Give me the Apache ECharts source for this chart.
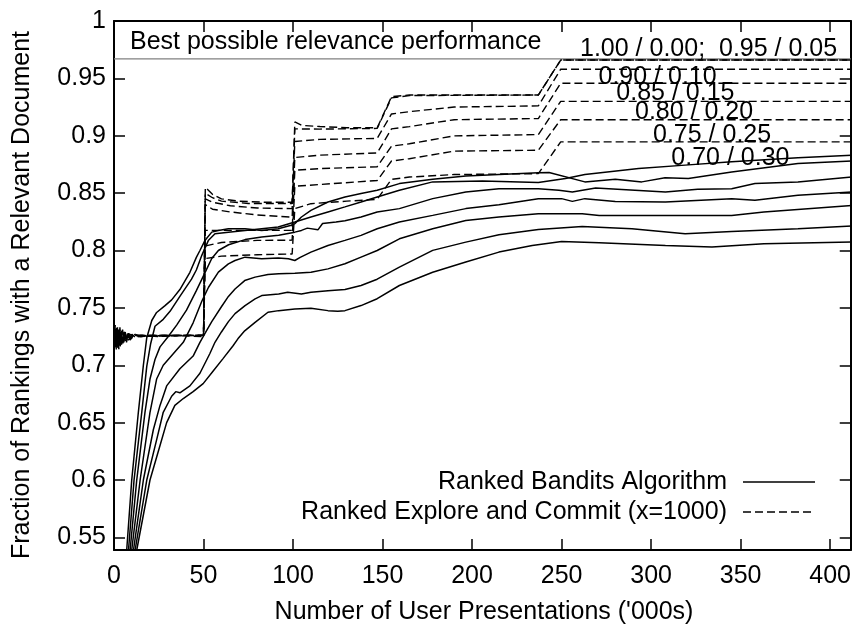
<!DOCTYPE html>
<html><head><meta charset="utf-8">
<script src="https://cdn.jsdelivr.net/npm/echarts@6/dist/echarts.min.js"></script>
<style>html,body{margin:0;padding:0;background:#fff}#c{width:854px;height:626px}</style>
</head><body><div id="c"></div>
<script>
const FONT = '"Liberation Sans", Arial, sans-serif';
const xTicks = [0, 50, 100, 150, 200, 250, 300, 350, 400];
const yTicks = [0.55, 0.6, 0.65, 0.7, 0.75, 0.8, 0.85, 0.9, 0.95, 1];
const bestPossible = 0.967;

// Ranked Bandits Algorithm curves (x in '000s, y fraction)
const banditA = [[7.1,0.539],[9.9,0.600],[13.6,0.659],[16.4,0.700],[18.3,0.724],[21.1,0.739],[23.8,0.746],[28.5,0.752],[32.2,0.757],[36.8,0.766],[42.4,0.781],[46,0.794],[48,0.800],[50.9,0.809],[54.6,0.816],[58.3,0.8175],[63.9,0.819],[73.2,0.819],[82.5,0.8175],[91.7,0.819],[99,0.822],[101,0.8234],[104.7,0.8292],[110,0.835],[119.5,0.8423],[129,0.8467],[138,0.8496],[147,0.8525],[159.4,0.8583],[178,0.8621],[196.5,0.865],[215,0.8662],[237,0.8677],[243,0.868],[263,0.8598],[280,0.8621],[294.8,0.8598],[307.8,0.8633],[320.8,0.8627],[345,0.8685],[382,0.8758],[412,0.8779]];
const banditB = [[8.1,0.539],[11.2,0.600],[15.5,0.659],[18.3,0.699],[20.5,0.719],[22.9,0.734],[27.5,0.740],[31.3,0.747],[36.8,0.760],[43.3,0.775],[46,0.783],[49.1,0.796],[52.8,0.809],[56.4,0.8146],[63.9,0.816],[73.2,0.8175],[82.5,0.819],[91.7,0.8205],[101,0.8248],[110,0.8292],[119.5,0.8336],[129,0.838],[138,0.8423],[147,0.8467],[159.4,0.8525],[178,0.8598],[205.8,0.8606],[237,0.8592],[252.2,0.8627],[263,0.8662],[293,0.8714],[319,0.8744],[345,0.8773],[382,0.8808],[412,0.8831]];
const banditC = [[9.0,0.539],[12.7,0.600],[17.3,0.659],[20.1,0.688],[22.9,0.705],[25.7,0.716],[30.3,0.725],[35,0.735],[40.5,0.748],[46,0.765],[50.9,0.781],[54.6,0.793],[58.3,0.800],[64,0.805],[73.2,0.8095],[82.5,0.8117],[92,0.8132],[101,0.816],[104.7,0.8175],[108,0.8195],[113.9,0.818],[116.5,0.8235],[124,0.8248],[129,0.826],[138,0.8292],[147,0.8336],[159.4,0.8365],[178,0.8452],[196.5,0.851],[215,0.8539],[237,0.8539],[248.5,0.8525],[256,0.851],[269,0.8545],[308,0.851],[326,0.8533],[345,0.8539],[358,0.8583],[382,0.8598],[412,0.8641]];
const banditD = [[9.9,0.539],[14.6,0.600],[20.1,0.659],[23.8,0.688],[27.5,0.700],[33.1,0.710],[38.7,0.720],[44.2,0.737],[49.1,0.756],[52.8,0.768],[58.3,0.7811],[63.9,0.7884],[67.6,0.7913],[73.2,0.7942],[82.5,0.7928],[91.7,0.7935],[97.4,0.7928],[101,0.7913],[104,0.794],[110,0.7986],[119.5,0.8044],[129,0.8088],[138,0.8132],[147,0.819],[159.4,0.8248],[178,0.8306],[196.5,0.8365],[215,0.8399],[237,0.8452],[250,0.8452],[256,0.8428],[263,0.8452],[280,0.8428],[308,0.8422],[345,0.8452],[358,0.8437],[382,0.8481],[412,0.851]];
const banditE = [[10.9,0.539],[16.4,0.600],[22,0.644],[25.7,0.665],[29.4,0.682],[36.8,0.697],[44.2,0.708],[48,0.720],[50.9,0.728],[54.6,0.738],[60,0.751],[63.9,0.760],[67.6,0.7665],[73,0.7738],[78.8,0.7768],[86,0.7791],[92,0.7797],[101,0.7802],[110,0.7811],[119.5,0.784],[129,0.7884],[138,0.7942],[147,0.800],[159.4,0.8102],[178,0.8189],[196.5,0.8262],[215,0.8291],[237,0.8321],[261.5,0.8321],[271,0.8306],[308,0.8306],[345,0.8306],[363,0.8335],[412,0.8393]];
const banditF = [[11.8,0.539],[18.3,0.600],[23.8,0.635],[27.5,0.659],[32.2,0.673],[34.5,0.677],[36.8,0.676],[42.4,0.682],[48,0.693],[53.5,0.710],[56.4,0.720],[60,0.729],[63.9,0.738],[67.6,0.745],[73.2,0.752],[78.8,0.7578],[82.5,0.7607],[92,0.762],[97,0.7636],[104.7,0.762],[110,0.7636],[119.5,0.765],[129,0.766],[138,0.7695],[147,0.775],[159.4,0.7855],[178,0.8001],[196.5,0.8073],[215,0.8137],[237,0.8184],[261.5,0.821],[289.3,0.8189],[319,0.8146],[345,0.8166],[382,0.8189],[412,0.8213]];
const banditG = [[12.7,0.539],[20.1,0.600],[25.7,0.630],[29.4,0.650],[34,0.665],[38.7,0.671],[44.2,0.677],[49.8,0.684],[55.4,0.695],[61,0.706],[66.5,0.717],[69.2,0.723],[73,0.730],[78.8,0.7374],[86,0.7462],[92,0.7476],[101,0.7491],[110,0.7497],[119.5,0.7476],[125,0.747],[129,0.7476],[138,0.752],[147,0.758],[159.4,0.7695],[178,0.7811],[196.5,0.7899],[215,0.7986],[233.6,0.8044],[250,0.8079],[271,0.8067],[308,0.8044],[334,0.803],[363,0.8059],[412,0.8073]];

// Ranked Explore and Commit (x=1000) curves
const explore100 = [[0,0.712],[0.5,0.730],[1,0.716],[1.5,0.733],[2,0.719],[2.5,0.731],[3,0.717],[3.5,0.729],[4,0.720],[4.5,0.730],[5,0.721],[6,0.729],[7,0.722],[8,0.728],[9,0.723],[10,0.727],[12,0.724],[15,0.726],[25,0.725],[35,0.726],[50,0.726],[51,0.855],[55,0.849],[60,0.845],[70,0.843],[85,0.842],[99.5,0.842],[101,0.912],[105,0.909],[115,0.908],[130,0.907],[147,0.907],[155,0.934],[165,0.9355],[190,0.9355],[237,0.9355],[249.5,0.966],[412,0.966]];
const explore095 = [[0,0.722],[0.5,0.714],[1,0.732],[1.5,0.716],[2,0.734],[2.5,0.718],[3,0.731],[3.5,0.716],[4,0.730],[5,0.719],[5.5,0.729],[6.5,0.721],[7.5,0.728],[9,0.722],[11,0.727],[14,0.725],[30,0.726],[50,0.725],[51,0.850],[55,0.846],[60,0.843],[75,0.841],[99.5,0.841],[101,0.906],[115,0.9058],[147,0.9064],[155,0.933],[165,0.935],[237,0.9355],[249.5,0.966],[412,0.966]];
const explore090 = [[0,0.718],[0.7,0.735],[1.3,0.713],[2,0.728],[2.7,0.714],[3.3,0.733],[4,0.717],[4.8,0.731],[5.5,0.720],[6.3,0.729],[7,0.720],[8,0.729],[9.5,0.723],[12,0.727],[15,0.725],[40,0.726],[50,0.726],[51,0.845],[55,0.842],[65,0.839],[80,0.837],[99.5,0.8365],[101,0.895],[115,0.8968],[147,0.8977],[155,0.919],[165,0.921],[190,0.925],[237,0.926],[249.5,0.958],[412,0.958]];
const explore085 = [[0,0.714],[1,0.726],[2,0.720],[3,0.732],[4,0.719],[5,0.728],[6,0.722],[8,0.727],[10,0.724],[13,0.726],[50,0.726],[51,0.840],[55,0.836],[65,0.8336],[80,0.831],[99.5,0.829],[101,0.881],[115,0.8831],[147,0.885],[155,0.906],[165,0.908],[190,0.914],[237,0.915],[249.5,0.9457],[412,0.9457]];
const explore080 = [[0,0.725],[1,0.717],[2,0.730],[3,0.718],[4,0.729],[5,0.720],[7,0.728],[9,0.723],[12,0.726],[50,0.726],[51,0.8175],[75,0.8175],[99.5,0.8175],[101,0.870],[115,0.8714],[147,0.873],[155,0.891],[165,0.893],[190,0.8999],[237,0.901],[249.5,0.930],[412,0.930]];
const explore075 = [[0,0.716],[1.5,0.729],[2.5,0.716],[3.5,0.730],[4.5,0.720],[6,0.727],[8,0.722],[11,0.726],[50,0.726],[51,0.804],[60,0.807],[80,0.8088],[99.5,0.809],[101,0.856],[115,0.8575],[147,0.861],[155,0.878],[165,0.880],[190,0.8866],[237,0.8874],[249.5,0.914],[412,0.914]];
const explore070 = [[0,0.720],[1.2,0.731],[2.2,0.715],[3.2,0.729],[4.2,0.718],[5.5,0.728],[7,0.721],[9,0.727],[12,0.725],[50,0.726],[51,0.793],[60,0.7951],[80,0.7963],[99.5,0.797],[101,0.8365],[110,0.8408],[130,0.843],[147,0.8446],[155,0.862],[165,0.864],[190,0.8662],[237,0.867],[249.5,0.8947],[412,0.8947]];

const X_MIN = 0, X_MAX = 411.5, Y_MIN = 0.539, Y_MAX = 1;

const banditSeries = [banditA, banditB, banditC, banditD, banditE, banditF, banditG];
const exploreSeries = [explore100, explore095, explore090, explore085, explore080, explore075, explore070];

const series = [];
series.push({
  type: 'line', name: 'best', data: [[X_MIN, bestPossible], [X_MAX, bestPossible]],
  showSymbol: false, silent: true, lineStyle: { color: '#808080', width: 1.3 }, z: 1
});
exploreSeries.forEach((d, i) => series.push({
  type: 'line', name: 'explore' + i, data: d, showSymbol: false, silent: true,
  lineStyle: { color: '#000', width: 1.4, type: [8, 4] }, z: 2
}));
banditSeries.forEach((d, i) => series.push({
  type: 'line', name: 'bandit' + i, data: d, showSymbol: false, silent: true,
  lineStyle: { color: '#000', width: 1.5, type: 'solid' }, z: 3
}));

const axisLineStyle = { color: '#000', width: 2 };
const tickStyle = { color: '#000', width: 1.5 };
const fmt = v => String(parseFloat(Number(v).toFixed(2)));

function txt(text, x, y, align, extra) {
  return Object.assign({
    type: 'text', x: x, y: y, z: 100,
    style: { text: text, font: '25px ' + FONT, fill: '#000',
      align: align, textAlign: align, verticalAlign: 'middle', textVerticalAlign: 'middle' }
  }, extra || {});
}

const option = {
  animation: false,
  backgroundColor: '#fff',
  grid: { left: 114, right: 1, top: 21, bottom: 76, containLabel: false },
  xAxis: [
    { type: 'value', min: X_MIN, max: X_MAX, position: 'bottom',
      axisLine: { show: true, onZero: false, lineStyle: axisLineStyle },
      axisTick: { show: true, inside: true, length: 11, customValues: xTicks, lineStyle: tickStyle },
      axisLabel: { show: true, customValues: xTicks, fontSize: 25, fontFamily: FONT, color: '#000', margin: 14 },
      splitLine: { show: false } },
    { type: 'value', min: X_MIN, max: X_MAX, position: 'top',
      axisLine: { show: true, onZero: false, lineStyle: axisLineStyle },
      axisTick: { show: true, inside: true, length: 11, customValues: xTicks, lineStyle: tickStyle },
      axisLabel: { show: false }, splitLine: { show: false } }
  ],
  yAxis: [
    { type: 'value', min: Y_MIN, max: Y_MAX, position: 'left',
      axisLine: { show: true, onZero: false, lineStyle: axisLineStyle },
      axisTick: { show: true, inside: true, length: 11, customValues: yTicks, lineStyle: tickStyle },
      axisLabel: { show: true, customValues: yTicks, formatter: fmt, fontSize: 25, fontFamily: FONT, color: '#000', margin: 8 },
      splitLine: { show: false } },
    { type: 'value', min: Y_MIN, max: Y_MAX, position: 'right',
      axisLine: { show: true, onZero: false, lineStyle: axisLineStyle },
      axisTick: { show: true, inside: true, length: 11, customValues: yTicks, lineStyle: tickStyle },
      axisLabel: { show: false }, splitLine: { show: false } }
  ],
  series: series,
  graphic: [
    txt('Best possible relevance performance', 130, 42, 'left'),
    txt('1.00 / 0.00;  0.95 / 0.05', 580, 49.5, 'left'),
    txt('0.90 / 0.10', 598.5, 77, 'left'),
    txt('0.85 / 0.15', 616.3, 93.3, 'left'),
    txt('0.80 / 0.20', 635, 112, 'left'),
    txt('0.75 / 0.25', 653, 135, 'left'),
    txt('0.70 / 0.30', 671.3, 158.5, 'left'),
    txt('Ranked Bandits Algorithm', 727, 482, 'right'),
    txt('Ranked Explore and Commit (x=1000)', 727, 512, 'right'),
    { type: 'line', z: 100, shape: { x1: 743, y1: 482, x2: 815, y2: 482 }, style: { stroke: '#000', lineWidth: 1.5 } },
    { type: 'line', z: 100, shape: { x1: 743, y1: 512, x2: 815, y2: 512 }, style: { stroke: '#000', lineWidth: 1.4, lineDash: [8, 4] } },
    txt("Number of User Presentations ('000s)", 484, 612, 'center'),
    txt('Fraction of Rankings with a Relevant Document', 22, 295, 'center', { rotation: Math.PI / 2 })
  ]
};

const chart = echarts.init(document.getElementById('c'), null, { renderer: 'canvas' });
chart.setOption(option);
</script>
</body></html>
